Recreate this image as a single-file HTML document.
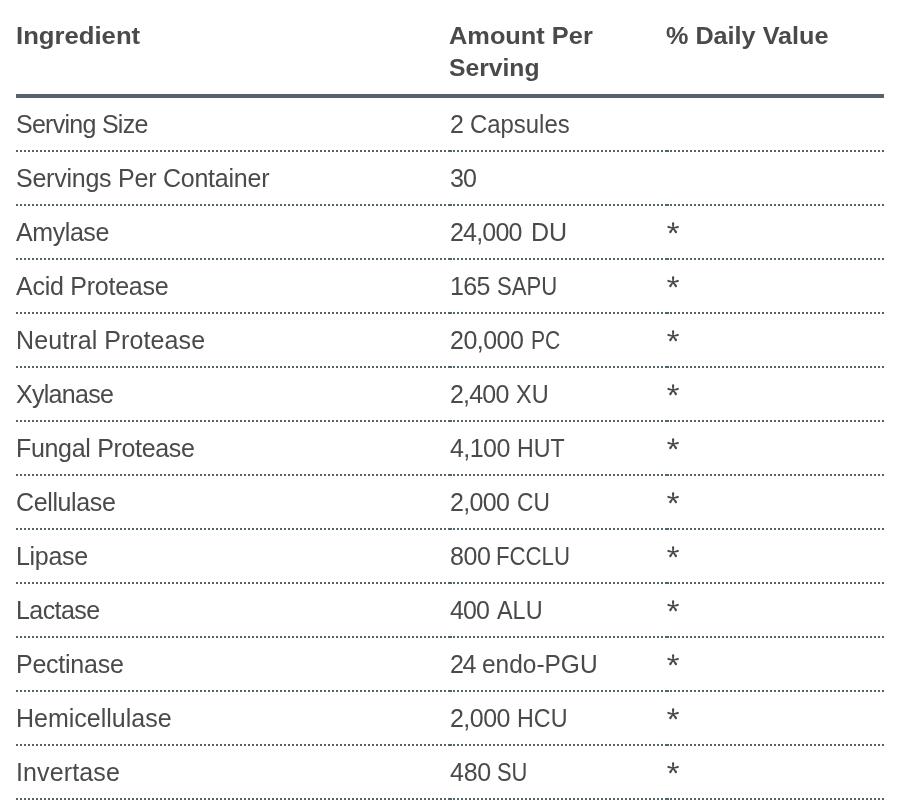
<!DOCTYPE html>
<html><head><meta charset="utf-8">
<style>
html,body{margin:0;padding:0;background:#fff;}
body{width:900px;height:800px;overflow:hidden;font-family:"Liberation Sans",sans-serif;color:#4a4a4a;}
table{will-change:transform;position:absolute;left:16px;top:0;width:868px;border-collapse:collapse;}
th{font-weight:bold;text-align:left;vertical-align:top;font-size:24px;line-height:32px;height:74px;padding:20px 0 0 0;border-bottom:4px solid #55636b;}
td{font-size:25px;line-height:52px;height:52px;padding:0;border-bottom:2px dotted #55636b;}
td span{position:relative;top:0px}
.a{font-size:34px;line-height:0;position:relative;top:4px;left:-0.5px}
.c3{position:relative}
.c3 svg{position:absolute;left:-1px;top:15px}
.c1{width:434px}.c2{width:217px}
th span{position:relative}
</style></head><body>
<table>
<thead><tr><th class="c1"><span style="display:inline-block;transform-origin:0 0;transform:scaleX(1.07);">Ingredient</span></th><th class="c2"><span style="display:inline-block;transform-origin:0 0;transform:scaleX(1.057);left:-1px;">Amount Per</span><br><span style="display:inline-block;transform-origin:0 0;transform:scaleX(1.028);left:-1px;">Serving</span></th><th><span style="display:inline-block;transform-origin:0 0;transform:scaleX(1.05);left:-1px;">% Daily Value</span></th></tr></thead>
<tbody>
<tr><td><span style="letter-spacing:-0.727px;">Serving Size</span></td><td><span style="letter-spacing:0.000px;">2</span><span style="display:inline-block;margin-left:6.500px;transform-origin:0 50%;transform:scaleX(0.9564);">Capsules</span></td><td class="c3"></td></tr>
<tr><td><span style="letter-spacing:-0.238px;">Servings Per Container</span></td><td><span style="letter-spacing:-1.000px;">30</span></td><td class="c3"></td></tr>
<tr><td><span style="letter-spacing:-0.417px;">Amylase</span></td><td><span style="letter-spacing:-0.800px;">24,000</span><span style="display:inline-block;margin-left:9.000px;transform-origin:0 50%;transform:scaleX(1.0010);">DU</span></td><td class="c3"><svg width="14" height="14" viewBox="0 0 14 14"><path fill="#4a4a4a" d="M7.70 7.20L8.25 2.50A1.15 1.15 0 0 0 5.95 2.50L6.50 7.20ZM7.25 6.62L2.68 4.89A1.15 1.15 0 0 0 2.12 7.11L6.95 7.78ZM7.25 7.78L12.08 7.11A1.15 1.15 0 0 0 11.52 4.89L6.95 6.62ZM6.62 6.84L3.37 10.32A1.15 1.15 0 0 0 5.23 11.68L7.58 7.56ZM6.62 7.56L8.97 11.68A1.15 1.15 0 0 0 10.83 10.32L7.58 6.84Z"/><circle cx="7.1" cy="7.2" r="1" fill="#4a4a4a"/></svg></td></tr>
<tr><td><span style="letter-spacing:-0.250px;">Acid Protease</span></td><td><span style="letter-spacing:-0.650px;">165</span><span style="display:inline-block;margin-left:6.800px;transform-origin:0 50%;transform:scaleX(0.8850);">SAPU</span></td><td class="c3"><svg width="14" height="14" viewBox="0 0 14 14"><path fill="#4a4a4a" d="M7.70 7.20L8.25 2.50A1.15 1.15 0 0 0 5.95 2.50L6.50 7.20ZM7.25 6.62L2.68 4.89A1.15 1.15 0 0 0 2.12 7.11L6.95 7.78ZM7.25 7.78L12.08 7.11A1.15 1.15 0 0 0 11.52 4.89L6.95 6.62ZM6.62 6.84L3.37 10.32A1.15 1.15 0 0 0 5.23 11.68L7.58 7.56ZM6.62 7.56L8.97 11.68A1.15 1.15 0 0 0 10.83 10.32L7.58 6.84Z"/><circle cx="7.1" cy="7.2" r="1" fill="#4a4a4a"/></svg></td></tr>
<tr><td><span style="letter-spacing:0.100px;">Neutral Protease</span></td><td><span style="letter-spacing:-0.520px;">20,000</span><span style="display:inline-block;margin-left:7.600px;transform-origin:0 50%;transform:scaleX(0.8441);">PC</span></td><td class="c3"><svg width="14" height="14" viewBox="0 0 14 14"><path fill="#4a4a4a" d="M7.70 7.20L8.25 2.50A1.15 1.15 0 0 0 5.95 2.50L6.50 7.20ZM7.25 6.62L2.68 4.89A1.15 1.15 0 0 0 2.12 7.11L6.95 7.78ZM7.25 7.78L12.08 7.11A1.15 1.15 0 0 0 11.52 4.89L6.95 6.62ZM6.62 6.84L3.37 10.32A1.15 1.15 0 0 0 5.23 11.68L7.58 7.56ZM6.62 7.56L8.97 11.68A1.15 1.15 0 0 0 10.83 10.32L7.58 6.84Z"/><circle cx="7.1" cy="7.2" r="1" fill="#4a4a4a"/></svg></td></tr>
<tr><td><span style="letter-spacing:-0.714px;">Xylanase</span></td><td><span style="letter-spacing:-0.800px;">2,400</span><span style="display:inline-block;margin-left:7.200px;transform-origin:0 50%;transform:scaleX(0.9380);">XU</span></td><td class="c3"><svg width="14" height="14" viewBox="0 0 14 14"><path fill="#4a4a4a" d="M7.70 7.20L8.25 2.50A1.15 1.15 0 0 0 5.95 2.50L6.50 7.20ZM7.25 6.62L2.68 4.89A1.15 1.15 0 0 0 2.12 7.11L6.95 7.78ZM7.25 7.78L12.08 7.11A1.15 1.15 0 0 0 11.52 4.89L6.95 6.62ZM6.62 6.84L3.37 10.32A1.15 1.15 0 0 0 5.23 11.68L7.58 7.56ZM6.62 7.56L8.97 11.68A1.15 1.15 0 0 0 10.83 10.32L7.58 6.84Z"/><circle cx="7.1" cy="7.2" r="1" fill="#4a4a4a"/></svg></td></tr>
<tr><td><span style="letter-spacing:-0.321px;">Fungal Protease</span></td><td><span style="letter-spacing:-0.550px;">4,100</span><span style="display:inline-block;margin-left:6.700px;transform-origin:0 50%;transform:scaleX(0.9289);">HUT</span></td><td class="c3"><svg width="14" height="14" viewBox="0 0 14 14"><path fill="#4a4a4a" d="M7.70 7.20L8.25 2.50A1.15 1.15 0 0 0 5.95 2.50L6.50 7.20ZM7.25 6.62L2.68 4.89A1.15 1.15 0 0 0 2.12 7.11L6.95 7.78ZM7.25 7.78L12.08 7.11A1.15 1.15 0 0 0 11.52 4.89L6.95 6.62ZM6.62 6.84L3.37 10.32A1.15 1.15 0 0 0 5.23 11.68L7.58 7.56ZM6.62 7.56L8.97 11.68A1.15 1.15 0 0 0 10.83 10.32L7.58 6.84Z"/><circle cx="7.1" cy="7.2" r="1" fill="#4a4a4a"/></svg></td></tr>
<tr><td><span style="letter-spacing:-0.375px;">Cellulase</span></td><td><span style="letter-spacing:-0.650px;">2,000</span><span style="display:inline-block;margin-left:7.350px;transform-origin:0 50%;transform:scaleX(0.9095);">CU</span></td><td class="c3"><svg width="14" height="14" viewBox="0 0 14 14"><path fill="#4a4a4a" d="M7.70 7.20L8.25 2.50A1.15 1.15 0 0 0 5.95 2.50L6.50 7.20ZM7.25 6.62L2.68 4.89A1.15 1.15 0 0 0 2.12 7.11L6.95 7.78ZM7.25 7.78L12.08 7.11A1.15 1.15 0 0 0 11.52 4.89L6.95 6.62ZM6.62 6.84L3.37 10.32A1.15 1.15 0 0 0 5.23 11.68L7.58 7.56ZM6.62 7.56L8.97 11.68A1.15 1.15 0 0 0 10.83 10.32L7.58 6.84Z"/><circle cx="7.1" cy="7.2" r="1" fill="#4a4a4a"/></svg></td></tr>
<tr><td><span style="letter-spacing:-0.300px;">Lipase</span></td><td><span style="letter-spacing:-0.450px;">800</span><span style="display:inline-block;margin-left:5.900px;transform-origin:0 50%;transform:scaleX(0.8876);">FCCLU</span></td><td class="c3"><svg width="14" height="14" viewBox="0 0 14 14"><path fill="#4a4a4a" d="M7.70 7.20L8.25 2.50A1.15 1.15 0 0 0 5.95 2.50L6.50 7.20ZM7.25 6.62L2.68 4.89A1.15 1.15 0 0 0 2.12 7.11L6.95 7.78ZM7.25 7.78L12.08 7.11A1.15 1.15 0 0 0 11.52 4.89L6.95 6.62ZM6.62 6.84L3.37 10.32A1.15 1.15 0 0 0 5.23 11.68L7.58 7.56ZM6.62 7.56L8.97 11.68A1.15 1.15 0 0 0 10.83 10.32L7.58 6.84Z"/><circle cx="7.1" cy="7.2" r="1" fill="#4a4a4a"/></svg></td></tr>
<tr><td><span style="letter-spacing:-0.583px;">Lactase</span></td><td><span style="letter-spacing:-0.900px;">400</span><span style="display:inline-block;margin-left:7.800px;transform-origin:0 50%;transform:scaleX(0.9368);">ALU</span></td><td class="c3"><svg width="14" height="14" viewBox="0 0 14 14"><path fill="#4a4a4a" d="M7.70 7.20L8.25 2.50A1.15 1.15 0 0 0 5.95 2.50L6.50 7.20ZM7.25 6.62L2.68 4.89A1.15 1.15 0 0 0 2.12 7.11L6.95 7.78ZM7.25 7.78L12.08 7.11A1.15 1.15 0 0 0 11.52 4.89L6.95 6.62ZM6.62 6.84L3.37 10.32A1.15 1.15 0 0 0 5.23 11.68L7.58 7.56ZM6.62 7.56L8.97 11.68A1.15 1.15 0 0 0 10.83 10.32L7.58 6.84Z"/><circle cx="7.1" cy="7.2" r="1" fill="#4a4a4a"/></svg></td></tr>
<tr><td><span style="letter-spacing:-0.250px;">Pectinase</span></td><td><span style="letter-spacing:-1.400px;">24</span><span style="display:inline-block;margin-left:6.900px;transform-origin:0 50%;transform:scaleX(0.9783);">endo-PGU</span></td><td class="c3"><svg width="14" height="14" viewBox="0 0 14 14"><path fill="#4a4a4a" d="M7.70 7.20L8.25 2.50A1.15 1.15 0 0 0 5.95 2.50L6.50 7.20ZM7.25 6.62L2.68 4.89A1.15 1.15 0 0 0 2.12 7.11L6.95 7.78ZM7.25 7.78L12.08 7.11A1.15 1.15 0 0 0 11.52 4.89L6.95 6.62ZM6.62 6.84L3.37 10.32A1.15 1.15 0 0 0 5.23 11.68L7.58 7.56ZM6.62 7.56L8.97 11.68A1.15 1.15 0 0 0 10.83 10.32L7.58 6.84Z"/><circle cx="7.1" cy="7.2" r="1" fill="#4a4a4a"/></svg></td></tr>
<tr><td>Hemicellulase</td><td><span style="letter-spacing:-0.540px;">2,000</span><span style="display:inline-block;margin-left:6.660px;transform-origin:0 50%;transform:scaleX(0.9318);">HCU</span></td><td class="c3"><svg width="14" height="14" viewBox="0 0 14 14"><path fill="#4a4a4a" d="M7.70 7.20L8.25 2.50A1.15 1.15 0 0 0 5.95 2.50L6.50 7.20ZM7.25 6.62L2.68 4.89A1.15 1.15 0 0 0 2.12 7.11L6.95 7.78ZM7.25 7.78L12.08 7.11A1.15 1.15 0 0 0 11.52 4.89L6.95 6.62ZM6.62 6.84L3.37 10.32A1.15 1.15 0 0 0 5.23 11.68L7.58 7.56ZM6.62 7.56L8.97 11.68A1.15 1.15 0 0 0 10.83 10.32L7.58 6.84Z"/><circle cx="7.1" cy="7.2" r="1" fill="#4a4a4a"/></svg></td></tr>
<tr><td><span style="letter-spacing:0.125px;">Invertase</span></td><td><span style="letter-spacing:-0.270px;">480</span><span style="display:inline-block;margin-left:5.940px;transform-origin:0 50%;transform:scaleX(0.8755);">SU</span></td><td class="c3"><svg width="14" height="14" viewBox="0 0 14 14"><path fill="#4a4a4a" d="M7.70 7.20L8.25 2.50A1.15 1.15 0 0 0 5.95 2.50L6.50 7.20ZM7.25 6.62L2.68 4.89A1.15 1.15 0 0 0 2.12 7.11L6.95 7.78ZM7.25 7.78L12.08 7.11A1.15 1.15 0 0 0 11.52 4.89L6.95 6.62ZM6.62 6.84L3.37 10.32A1.15 1.15 0 0 0 5.23 11.68L7.58 7.56ZM6.62 7.56L8.97 11.68A1.15 1.15 0 0 0 10.83 10.32L7.58 6.84Z"/><circle cx="7.1" cy="7.2" r="1" fill="#4a4a4a"/></svg></td></tr>
</tbody></table>
</body></html>
